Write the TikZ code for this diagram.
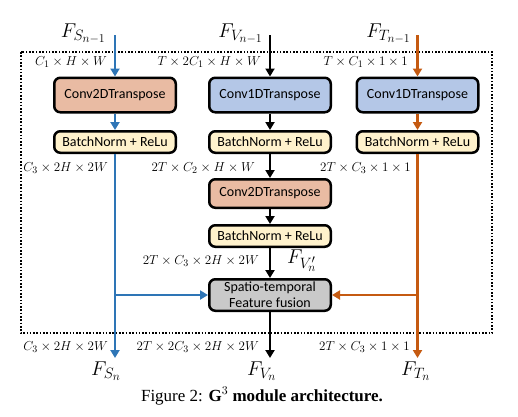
\documentclass[tikz,border=0pt]{standalone}
\usepackage{fix-cm}
\usepackage{fontspec}
\setmainfont{Liberation Serif}
\newfontfamily\boxfont{Carlito}
\DeclareMathSizes{20}{20}{15}{12}
\DeclareMathSizes{13}{13}{10}{8}
\usetikzlibrary{arrows.meta,positioning}
\definecolor{sblue}{HTML}{2E75B6}
\definecolor{torange}{HTML}{C55A11}
\definecolor{salmon}{HTML}{E9BBA3}
\definecolor{paleblue}{HTML}{B4C7E7}
\definecolor{cream}{HTML}{FFF2CC}
\definecolor{fusegray}{HTML}{C9C9C9}
\begin{document}
\begin{tikzpicture}[x=1pt,y=1pt,>={Triangle[width=9pt,length=8pt]},
blk/.style={draw=black,line width=2.5pt,rounded corners=6pt,inner sep=0pt,align=center,
  minimum width=121.5pt,font=\boxfont\fontsize{14}{16}\selectfont},
convtwo/.style={blk,fill=salmon},
convone/.style={blk,fill=paleblue},
bnrelu/.style={blk,fill=cream,minimum height=21.5pt},
dim/.style={inner sep=0pt,font=\fontsize{13}{15}\selectfont},
flab/.style={inner sep=0pt,font=\fontsize{20}{24}\selectfont},
sarr/.style={->,line width=2.5pt,sblue},
varr/.style={->,line width=2.5pt,black},
tarr/.style={->,line width=2.5pt,torange}]
\useasboundingbox (0,0) rectangle (518,-416);
\draw[line width=2pt,dash pattern=on 1.6pt off 1.7pt] (20.5,-52) rectangle (492,-333);
\node[convtwo,minimum height=34.5pt] (cs) at (115,-95) {Conv2DTranspose};
\node[convone,minimum height=34.5pt,right=31pt of cs] (cv) {Conv1DTranspose};
\node[convone,minimum height=34.5pt,right=23.5pt of cv] (ct) {Conv1DTranspose};
\node[bnrelu,below=16.5pt of cs] (bs) {BatchNorm + ReLu};
\node[bnrelu,below=16.5pt of cv] (bv) {BatchNorm + ReLu};
\node[bnrelu,below=16.5pt of ct] (bt) {BatchNorm + ReLu};
\node[convtwo,minimum height=28.5pt,below=24pt of bv] (cv2) {Conv2DTranspose};
\node[bnrelu,below=15pt of cv2] (bv2) {BatchNorm + ReLu};
\node[blk,fill=fusegray,minimum height=31.5pt,below=30pt of bv2] (fu) {Spatio-temporal\\Feature fusion};
\coordinate (ss) at (cs.north |- 0,-35);
\coordinate (sv) at (cv.north |- 0,-35);
\coordinate (st) at (ct.north |- 0,-35);
\coordinate (es) at (cs.south |- 0,-358);
\coordinate (ev) at (cv.south |- 0,-358);
\coordinate (et) at (ct.south |- 0,-358);
\node[flab,anchor=base east] (fs0) at (106,-37) {$F_{S_{n-1}}$};
\node[flab,anchor=base east] (fv0) at (263,-37) {$F_{V_{n-1}}$};
\node[flab,anchor=base east] (ft0) at (411,-37) {$F_{T_{n-1}}$};
\node[dim,anchor=east] (ds1) at (107,-62) {$C_1\times H\times W$};
\node[dim,anchor=east] (dv1) at (261,-62) {$T\times 2C_1\times H\times W$};
\node[dim,anchor=east] (dt1) at (408,-62) {$T\times C_1\times 1\times 1$};
\node[dim,anchor=east] (ds2) at (108,-168) {$C_3\times 2H\times 2W$};
\node[dim,anchor=east] (dv2) at (255,-168) {$2T\times C_2\times H\times W$};
\node[dim,anchor=east] (dt2) at (411,-168) {$2T\times C_3\times 1\times 1$};
\node[dim,anchor=east] (dv3) at (259,-261) {$2T\times C_3\times 2H\times 2W$};
\node[flab,anchor=west] (fvp) at (287,-261) {$F_{V'_n}$};
\node[dim,anchor=east] (ds4) at (108,-347) {$C_3\times 2H\times 2W$};
\node[dim,anchor=east] (dv4) at (259,-347) {$2T\times 2C_3\times 2H\times 2W$};
\node[dim,anchor=east] (dt4) at (410,-347) {$2T\times C_3\times 1\times 1$};
\node[flab,anchor=base west] (fsn) at (91,-375) {$F_{S_n}$};
\node[flab,anchor=base west] (fvn) at (247,-375) {$F_{V_n}$};
\node[flab,anchor=base west] (ftn) at (401,-375) {$F_{T_n}$};
\node[font=\fontsize{17}{20}\selectfont] (cap) at (262,-396) {Figure 2: \textbf{G}$^3$ \textbf{module architecture.}};
\draw[sarr] (ss) -- (cs);
\draw[sarr] (cs) -- (bs);
\draw[sarr] (bs) -- (es);
\draw[sarr] (bs.south |- fu.west) -- (fu.west);
\draw[varr] (sv) -- (cv);
\draw[varr] (cv) -- (bv);
\draw[varr] (bv) -- (cv2);
\draw[varr] (cv2) -- (bv2);
\draw[varr] (bv2) -- (fu);
\draw[varr] (fu) -- (ev);
\draw[tarr] (st) -- (ct);
\draw[tarr] (ct) -- (bt);
\draw[tarr] (bt) -- (et);
\draw[tarr] (bt.south |- fu.east) -- (fu.east);
\end{tikzpicture}
\end{document}
